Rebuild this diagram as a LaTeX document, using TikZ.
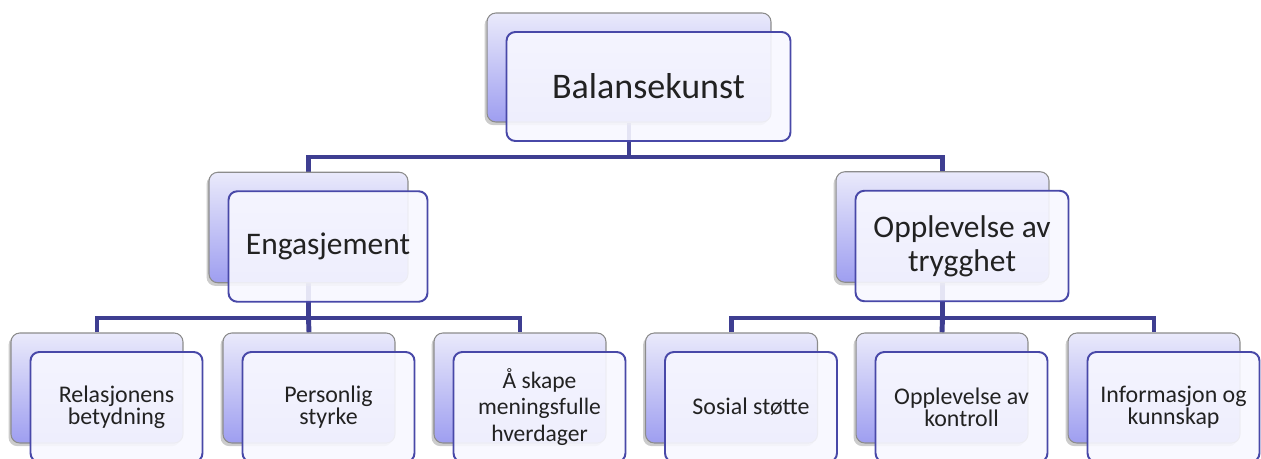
\documentclass[tikz,border=0pt]{standalone}
\usepackage{fontspec}
\setmainfont{Carlito}
\usetikzlibrary{positioning, calc, shadows, backgrounds}

\definecolor{linkblue}{RGB}{62,62,145}
\definecolor{edgeblue}{RGB}{72,72,168}
\definecolor{shadetop}{RGB}{234,234,251}
\definecolor{shadebot}{RGB}{158,158,240}
\definecolor{textgray}{RGB}{34,34,34}

\begin{document}
\begin{tikzpicture}[x=0.02cm, y=-0.02cm,
    backbox/.style={rectangle, rounded corners=5pt, draw=gray!90, line width=0.6pt,
        top color=shadetop, bottom color=shadebot, inner sep=0pt,
        drop shadow={shadow xshift=-1.4pt, shadow yshift=-1.8pt, opacity=0.4}},
    frontbox/.style={rectangle, rounded corners=5pt, draw=edgeblue, line width=1.1pt,
        fill=white!97!blue, fill opacity=0.9, text opacity=1, text=textgray,
        inner sep=0pt, align=center, xshift=0.39cm, yshift=-0.38cm},
    conn/.style={linkblue, line width=2.8pt},
    lvlone/.style={minimum width=5.68cm, minimum height=2.18cm, font=\fontsize{20.5}{24}\selectfont},
    lvltwo/.style={minimum height=2.21cm, font=\fontsize{17.9}{19.4}\selectfont},
    lvlthree/.style={minimum width=3.44cm, minimum height=2.2cm, font=\fontsize{13.6}{12.4}\selectfont}]

    \useasboundingbox (0,0) rectangle (1261,458);
    \clip (0,0) rectangle (1261,458);

    % Top level
    \node[backbox, lvlone] (topb) at (629,67.5) {};
    \node[frontbox, lvlone] (topf) at (topb) {Balansekunst};

    % Second level
    \node[backbox, lvltwo, minimum width=3.98cm] (engb) at (308.5,227.5) {};
    \node[frontbox, lvltwo, minimum width=3.98cm] (engf) at (engb) {Engasjement};
    \node[backbox, lvltwo, minimum width=4.26cm] (tryb) at (942.5,227) {};
    \node[frontbox, lvltwo, minimum width=4.26cm] (tryf) at (tryb) {Opplevelse av\\trygghet};

    % Third level, left
    \node[backbox, lvlthree] (relb) at (97,388) {};
    \node[frontbox, lvlthree] (relf) at (relb) {Relasjonens\\betydning};
    \node[backbox, lvlthree] (perb) at (309,388) {};
    \node[frontbox, lvlthree] (perf) at (perb) {Personlig\\styrke};
    \node[backbox, lvlthree] (hveb) at (520,388) {};
    \node[frontbox, lvlthree, font=\fontsize{13.4}{15}\selectfont] (hvef) at (hveb) {Å skape\\meningsfulle\\hverdager};

    % Third level, right
    \node[backbox, lvlthree] (sosb) at (731.5,388) {};
    \node[frontbox, lvlthree] (sosf) at (sosb) {Sosial støtte};
    \node[backbox, lvlthree] (konb) at (942,388) {};
    \node[frontbox, lvlthree] (konf) at (konb) {Opplevelse av\\kontroll};
    \node[backbox, lvlthree] (infb) at (1154,388) {};
    \node[frontbox, lvlthree] (inff) at (infb) {Informasjon og\\kunnskap};

    % Connectors
    \coordinate (busa) at (629,157);
    \coordinate (busb) at (308.5,318);
    \coordinate (busc) at (942.5,318);
    \begin{scope}[on background layer]
        \draw[conn] (topb.south) -- (busa);
        \draw[conn] (engb.north) |- (busa) -| (tryb.north);
        \draw[conn] (engb.south) -- (busb);
        \draw[conn] (relb.north) |- (busb) -| (hveb.north);
        \draw[conn] (perb.north) -- (busb);
        \draw[conn] (tryb.south) -- (busc);
        \draw[conn] (sosb.north) |- (busc) -| (infb.north);
        \draw[conn] (konb.north) -- (busc);
    \end{scope}
\end{tikzpicture}
\end{document}
